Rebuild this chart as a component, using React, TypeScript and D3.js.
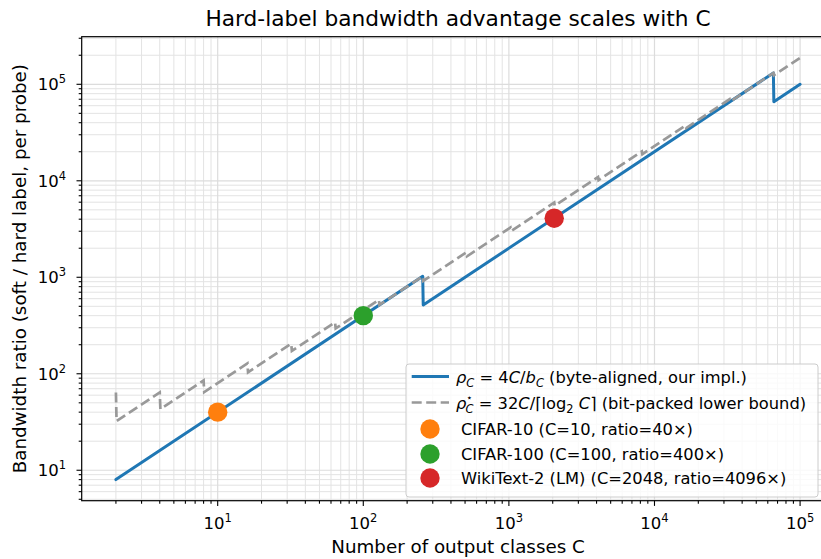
import React from 'react';
import * as d3 from 'd3';

// ---- data ----
const blueC = [2, 256, 258, 65536, 66048, 100000];
const blueRho = [8, 1024, 516, 131072, 66048, 100000];

const grayC = [2, 2.02, 4, 4.04, 8, 8.08, 16, 16.16, 32, 32.32, 64, 64.6, 128, 129, 256, 258, 512, 516, 1024, 1032, 2048, 2064, 4096, 4128, 8192, 8256, 16384, 16512, 32768, 33024, 65536, 66048, 100000];
const grayRho = [64, 32.3, 64, 43.1, 85.3, 64.6, 128, 103.4, 204.8, 172.4, 341.3, 295.3, 585.1, 516, 1024, 917.3, 1820.4, 1651.2, 3276.8, 3002.2, 5957.8, 5504, 10922.7, 10161, 20165, 18871, 37449, 35226, 69905, 66048, 131072, 124326, 188235];

const dsNames = ['CIFAR-10 (C=10, ratio=40×)', 'CIFAR-100 (C=100, ratio=400×)', 'WikiText-2 (LM) (C=2048, ratio=4096×)'];
const dsC = [10, 100, 2048];
const dsRatio = [40, 400, 4096];
const dsColors = ['#ff7f0e', '#2ca02c', '#d62728'];

const tickExps = [1, 2, 3, 4, 5];

const W = 821, H = 559;
const L = 81.7, R = 834.3, T = 36.7, B = 500.7;
const FONT = 'DejaVu Sans, sans-serif';

export default function App() {
  const x = d3.scaleLog().domain([Math.pow(10, 0.066), Math.pow(10, 5.235)]).range([L, R]);
  const y = d3.scaleLog().domain([Math.pow(10, 0.6844), Math.pow(10, 5.4933)]).range([B, T]);

  const minorX: number[] = [];
  const minorY: number[] = [];
  for (let e = 0; e <= 5; e++) {
    for (let m = 2; m <= 9; m++) {
      const v = m * Math.pow(10, e);
      const [x0, x1] = x.domain();
      if (v > x0 && v < x1) minorX.push(v);
      const [y0, y1] = y.domain();
      if (v > y0 && v < y1) minorY.push(v);
    }
  }
  const majors = tickExps.map((e) => Math.pow(10, e));

  const line = d3.line<[number, number]>().x((d) => x(d[0])).y((d) => y(d[1]));
  const bluePts = blueC.map((c, i) => [c, blueRho[i]] as [number, number]);
  const grayPts = grayC.map((c, i) => [c, grayRho[i]] as [number, number]);

  const legX = 406, legY = 364, legW = 412, legH = 133;
  const rowY = [376.5, 402.5, 429, 454, 478];
  const fs = 16.3;

  return (
    <svg width={W} height={H} style={{ position: 'absolute', left: 0, top: 0 }} fontFamily={FONT}>
      <rect x={0} y={0} width={W} height={H} fill="#fff" />
      <defs>
        <clipPath id="plot">
          <rect x={L} y={T} width={R - L} height={B - T} />
        </clipPath>
      </defs>
      {/* grid */}
      <g>
        {minorX.map((v, i) => (
          <line key={'mx' + i} x1={x(v)} x2={x(v)} y1={T} y2={B} stroke="#e3e3e3" strokeWidth={1} />
        ))}
        {minorY.map((v, i) => (
          <line key={'my' + i} y1={y(v)} y2={y(v)} x1={L} x2={R} stroke="#e3e3e3" strokeWidth={1} />
        ))}
        {majors.map((v, i) => (
          <line key={'Mx' + i} x1={x(v)} x2={x(v)} y1={T} y2={B} stroke="#dcdcdc" strokeWidth={1.2} />
        ))}
        {majors.map((v, i) => (
          <line key={'My' + i} y1={y(v)} y2={y(v)} x1={L} x2={R} stroke="#dcdcdc" strokeWidth={1.2} />
        ))}
      </g>
      {/* lines */}
      <g clipPath="url(#plot)">
        <path d={line(bluePts) || ''} fill="none" stroke="#1f77b4" strokeWidth={3} strokeLinejoin="round" strokeLinecap="round" />
        <path d={line(grayPts) || ''} fill="none" stroke="#999999" strokeWidth={2.7} strokeDasharray="10,4.5" />
        {dsC.map((c, i) => (
          <circle key={i} cx={x(c)} cy={y(dsRatio[i])} r={9.7} fill={dsColors[i]} />
        ))}
      </g>
      {/* spines */}
      <rect x={L} y={T} width={R - L} height={B - T} fill="none" stroke="#000" strokeWidth={1.2} />
      {/* ticks */}
      <g stroke="#000" strokeWidth={1.1}>
        {majors.map((v, i) => (
          <line key={'tx' + i} x1={x(v)} x2={x(v)} y1={B} y2={B + 5.2} />
        ))}
        {minorX.map((v, i) => (
          <line key={'tmx' + i} x1={x(v)} x2={x(v)} y1={B} y2={B + 3} />
        ))}
        {majors.map((v, i) => (
          <line key={'ty' + i} x1={L - 5.2} x2={L} y1={y(v)} y2={y(v)} />
        ))}
        {minorY.map((v, i) => (
          <line key={'tmy' + i} x1={L - 3} x2={L} y1={y(v)} y2={y(v)} />
        ))}
      </g>
      {/* tick labels */}
      <g fontSize={16.5} fill="#000">
        {tickExps.map((e, i) => (
          <text key={'lx' + i} x={x(majors[i])} y={529} textAnchor="middle">
            10<tspan fontSize={11.5} dy={-7}>{e}</tspan>
          </text>
        ))}
        {tickExps.map((e, i) => (
          <text key={'ly' + i} x={66} y={y(majors[i]) + 6} textAnchor="end">
            10<tspan fontSize={11.5} dy={-7}>{e}</tspan>
          </text>
        ))}
      </g>
      {/* title and labels */}
      <text x={(L + R) / 2} y={26} textAnchor="middle" fontSize={21.7}>Hard-label bandwidth advantage scales with C</text>
      <text x={(L + R) / 2} y={553} textAnchor="middle" fontSize={18.3}>Number of output classes C</text>
      <text transform={`translate(26,${(T + B) / 2}) rotate(-90)`} textAnchor="middle" fontSize={18.3}>Bandwidth ratio (soft / hard label, per probe)</text>
      {/* legend */}
      <g>
        <rect x={legX} y={legY} width={legW} height={legH} rx={3} fill="#fff" fillOpacity={0.8} stroke="#cccccc" strokeWidth={1} />
        <line x1={411.7} x2={449} y1={rowY[0]} y2={rowY[0]} stroke="#1f77b4" strokeWidth={3} />
        <line x1={411.7} x2={449} y1={rowY[1]} y2={rowY[1]} stroke="#999999" strokeWidth={2.7} strokeDasharray="10,4.5" />
        {dsNames.map((n, i) => (
          <circle key={'lc' + i} cx={430} cy={rowY[2 + i]} r={9.7} fill={dsColors[i]} />
        ))}
        <text x={456} y={rowY[0] + 6} fontSize={fs}>
          <tspan fontStyle="italic">ρ</tspan>
          <tspan fontStyle="italic" fontSize={11.4} dy={4}>C</tspan>
          <tspan dy={-4}> = 4</tspan>
          <tspan fontStyle="italic">C</tspan>
          <tspan>/</tspan>
          <tspan fontStyle="italic">b</tspan>
          <tspan fontStyle="italic" fontSize={11.4} dy={4}>C</tspan>
          <tspan dy={-4}> (byte-aligned, our impl.)</tspan>
        </text>
        <text x={456} y={rowY[1] + 6} fontSize={fs}>
          <tspan fontStyle="italic">ρ</tspan>
          <tspan fontSize={10} dy={-8}>⋆</tspan>
          <tspan fontStyle="italic" fontSize={11.4} dx={-7} dy={12}>C</tspan>
          <tspan dy={-4}> = 32</tspan>
          <tspan fontStyle="italic">C</tspan>
          <tspan>/⌈log</tspan>
          <tspan fontSize={11.4} dy={4}>2</tspan>
          <tspan dy={-4} fontStyle="italic"> C</tspan>
          <tspan>⌉ (bit-packed lower bound)</tspan>
        </text>
        {dsNames.map((n, i) => (
          <text key={'lt' + i} x={461} y={rowY[2 + i] + 6} fontSize={fs}>{n}</text>
        ))}
      </g>
    </svg>
  );
}
